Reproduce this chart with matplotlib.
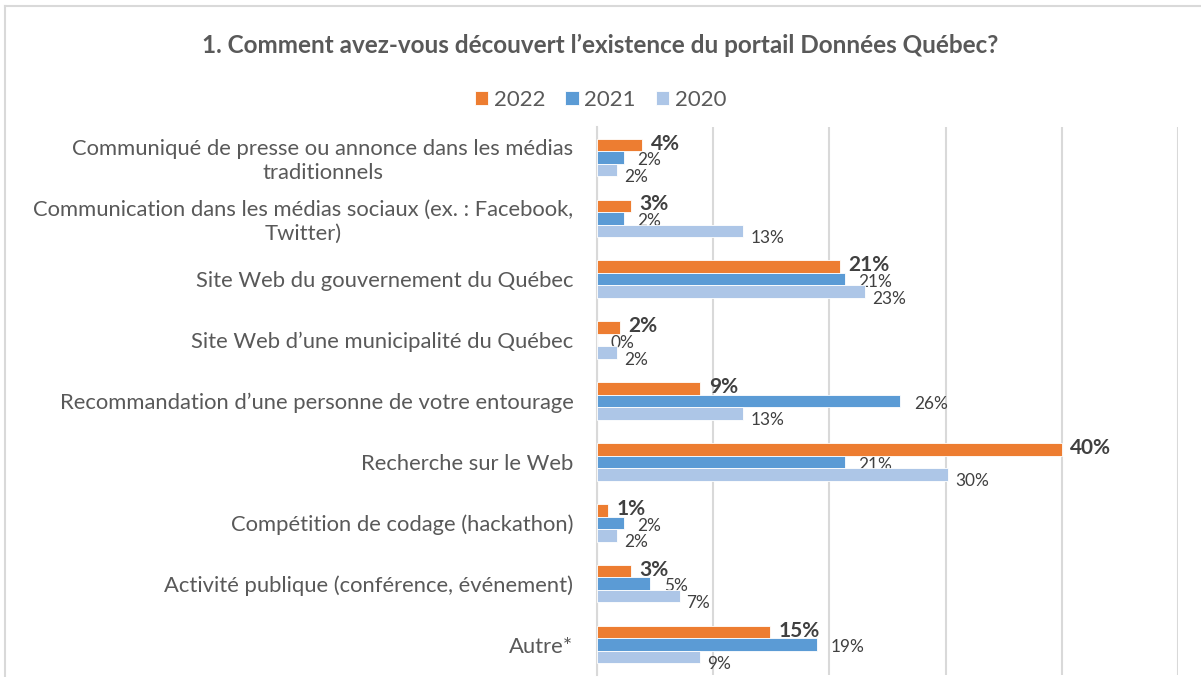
import numpy as np
import matplotlib.pyplot as plt

# data (percent)
categories = [
    "Communiqué de presse ou annonce dans les médias\ntraditionnels",
    "Communication dans les médias sociaux (ex. : Facebook,\nTwitter)",
    "Site Web du gouvernement du Québec",
    "Site Web d\u2019une municipalité du Québec",
    "Recommandation d\u2019une personne de votre entourage",
    "Recherche sur le Web",
    "Compétition de codage (hackathon)",
    "Activité publique (conférence, événement)",
    "Autre*",
]
v2022 = [3.9, 2.9, 20.9, 2.0, 8.9, 40.0, 0.95, 2.9, 14.9]
v2021 = [2.3, 2.3, 21.3, 0.0, 26.1, 21.3, 2.3, 4.6, 18.9]
v2020 = [1.7, 12.6, 23.1, 1.7, 12.6, 30.2, 1.7, 7.1, 8.9]
years = ["2022", "2021", "2020"]
colors = ["#ED7D31", "#5B9BD5", "#ADC6E7"]

plt.rcParams['font.family'] = ['Lato', 'DejaVu Sans']

fig = plt.figure(figsize=(12.01, 6.77), dpi=100)
ax = fig.add_axes([597/1201, 2/677, 581/1201, 548/677])

y = np.arange(len(categories))
h = 0.206
series = [v2022, v2021, v2020]
offsets = [(6, 1), (10, -2), (5, -5)]
for k, (vals, col, lab) in enumerate(zip(series, colors, years)):
    pos = y + (k - 1)*h
    ax.barh(pos, vals, height=h, color=col, edgecolor="white",
            linewidth=0.6, label=lab, zorder=3)
    for p, v in zip(pos, vals):
        txt = "{:.0f}%".format(v)
        if k == 0:
            ax.annotate(txt, (v, p), xytext=offsets[k], textcoords="offset points",
                        va="center", ha="left", fontsize=15, fontweight="bold",
                        color="#404040")
        else:
            ax.annotate(txt, (v, p), xytext=offsets[k], textcoords="offset points",
                        va="center", ha="left", fontsize=12.4, color="#404040")

ax.set_xlim(0, 50)
ax.set_ylim(len(categories) - 0.5, -0.5)
ax.set_xticks(np.arange(0, 51, 10))
ax.set_xticklabels([])
ax.set_yticks(y)
ax.set_yticklabels(categories, fontsize=15.8, color="#595959", ha="right",
                   multialignment="center")
ax.tick_params(axis="y", length=0, pad=17)
ax.tick_params(axis="x", length=0)
ax.grid(axis="x", color="#D9D9D9", linewidth=1.5, zorder=0)
for s in ["top", "right", "bottom"]:
    ax.spines[s].set_visible(False)
ax.spines["left"].set_color("#D9D9D9")
ax.spines["left"].set_linewidth(1.5)

fig.text(0.5, 1 - 45/677, "1. Comment avez-vous découvert l\u2019existence du portail Données Québec?",
         ha="center", va="center", fontsize=17.5, fontweight="bold", color="#595959")
fig.legend(loc="center", bbox_to_anchor=(0.5, 1 - 100/677), ncol=3, frameon=False,
           fontsize=16, handlelength=0.6, handleheight=0.6, handletextpad=0.25,
           columnspacing=0.9, labelcolor="#595959")

# chart area border (top and left only visible)
fig.add_artist(plt.Line2D([5/1201, 1], [1 - 6/677]*2, color="#D9D9D9", linewidth=1.5))
fig.add_artist(plt.Line2D([5/1201]*2, [0, 1 - 6/677], color="#D9D9D9", linewidth=1.5))

fig.savefig("out.png", dpi=100)
